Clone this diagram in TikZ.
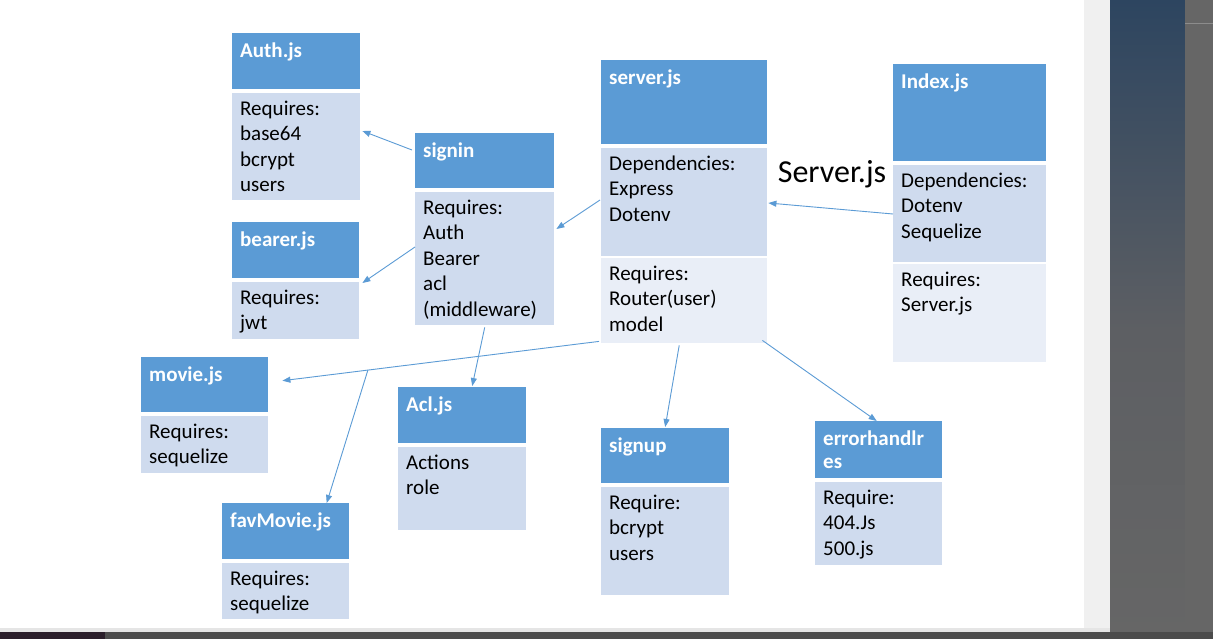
\documentclass[tikz,border=0pt]{standalone}
\usepackage{fontspec}
\setmainfont{Carlito}
\usetikzlibrary{arrows.meta}
\definecolor{headblue}{HTML}{5B9BD5}
\definecolor{bodyblue}{HTML}{CFDBEE}
\definecolor{restblue}{HTML}{E9EEF7}
\definecolor{linkblue}{HTML}{5B9BD5}
\definecolor{panelTop}{HTML}{2D4560}
\definecolor{panelMid}{HTML}{5D5F63}
\definecolor{panelBot}{HTML}{666666}
\definecolor{barDark}{HTML}{2A1E2A}
\tikzset{
	head/.style 2 args = {anchor=north west, fill=headblue, inner sep=0pt,
		minimum width=#1pt, minimum height=#2pt},
	body/.style 2 args = {anchor=north west, fill=bodyblue, inner sep=0pt,
		minimum width=#1pt, minimum height=#2pt},
	rest/.style 2 args = {body={#1}{#2}, fill=restblue},
	htxt/.style = {anchor=north west, text=white,
		font=\boxfont\bfseries, inner xsep=8pt, inner ysep=0pt, text height=24pt},
	btxt/.style = {anchor=north west, text=black,
		font=\boxfont, inner xsep=8pt, inner ysep=0pt, text height=22pt},
	link/.style = {draw=linkblue, line width=0.9pt}
}
\newcommand{\boxfont}{\fontsize{21}{25.5}\selectfont}
\newcommand{\lines}[1]{\begin{tabular}[t]{@{}l@{}}#1\end{tabular}}

\begin{document}
\begin{tikzpicture}[x=1pt, y=-1pt, >={Triangle[length=8pt, width=6pt]}]
\useasboundingbox (0,0) rectangle (1213,639);
% page and window around it
\fill[white] (0,0) rectangle (1084,628);
\fill[black!6] (1084,0) rectangle (1110,628);
\fill[black!10] (0,628) rectangle (1110,632);
\shade[top color=panelTop, bottom color=panelMid] (1110,0) rectangle (1185,330);
\shade[top color=panelMid, bottom color=panelBot] (1110,330) rectangle (1185,639);
\fill[panelBot] (1185,0) rectangle (1213,639);
\draw[black!45] (1185,23) -- (1213,23);
\fill[black!70] (0,632) rectangle (1213,639);
\fill[barDark] (0,632) rectangle (105,639);

% Drawing the file boxes
\draw
node at (232,33)  [head={128}{56}, label={[htxt]north west:{Auth.js}}] (auth) {}
node at (232,93)  [body={128}{107}, label={[btxt]north west:{\lines{Requires:\\base64\\bcrypt\\users}}}] (authB) {}
node at (232,222) [head={127}{56}, label={[htxt]north west:{bearer.js}}] (bearer) {}
node at (232,282) [body={127}{57}, label={[btxt]north west:{\lines{Requires:\\jwt}}}] (bearerB) {}
node at (415,133) [head={139}{55}, label={[htxt]north west:{signin}}] (signin) {}
node at (415,192) [body={139}{133}, label={[btxt]north west:{\lines{Requires:\\Auth\\Bearer\\acl\\(middleware)}}}] (signinB) {}
node at (601,60)  [head={166}{84}, label={[htxt]north west:{server.js}}] (server) {}
node at (601,148) [body={166}{108}, label={[btxt]north west:{\lines{Dependencies:\\Express\\Dotenv}}}] (serverB) {}
node at (601,258) [rest={166}{85}, label={[btxt]north west:{\lines{Requires:\\Router(user)\\model}}}] (serverR) {}
node at (893,64)  [head={153}{97}, label={[htxt]north west:{Index.js}}] (index) {}
node at (893,165) [body={153}{97}, label={[btxt]north west:{\lines{Dependencies:\\Dotenv\\Sequelize}}}] (indexB) {}
node at (893,264) [rest={153}{98}, label={[btxt]north west:{\lines{Requires:\\Server.js}}}] (indexR) {}
node at (141,357) [head={127}{55}, label={[htxt]north west:{movie.js}}] (movie) {}
node at (141,416) [body={127}{57}, label={[btxt]north west:{\lines{Requires:\\sequelize}}}] (movieB) {}
node at (398,387) [head={128}{56}, label={[htxt]north west:{Acl.js}}] (acl) {}
node at (398,447) [body={128}{83}, label={[btxt]north west:{\lines{Actions\\role}}}] (aclB) {}
node at (222,503) [head={127}{56}, label={[htxt]north west:{favMovie.js}}] (favmovie) {}
node at (222,563) [body={127}{56}, label={[btxt]north west:{\lines{Requires:\\sequelize}}}] (favmovieB) {}
node at (601,428) [head={128}{55}, label={[htxt]north west:{signup}}] (signup) {}
node at (601,487) [body={128}{108}, label={[btxt]north west:{\lines{Require:\\bcrypt\\users}}}] (signupB) {}
node at (815,421) [head={127}{57}, label={[htxt]north west:{\lines{errorhandlr\\[-2pt]es}}}] (errh) {}
node at (815,482) [body={127}{83}, label={[btxt]north west:{\lines{Require:\\404.Js\\500.js}}}] (errhB) {};

\node at (832,183) [anchor=base, font=\fontsize{32}{38}\selectfont] (srvname) {Server.js};

% links between the files
\draw[link, ->] ([xshift=-3pt, yshift=-17pt]signin.north west) -- ([xshift=2pt, yshift=-38pt]authB.north east);
\draw[link, ->] ([yshift=-55pt]signinB.north west) -- ([xshift=3pt, yshift=-1pt]bearerB.north east);
\draw[link, ->] ([xshift=-1pt, yshift=-52pt]serverB.north west) -- ([xshift=2pt, yshift=-37pt]signinB.north east);
\draw[link, ->] ([yshift=-49pt]indexB.north west) -- ([xshift=1pt, yshift=-55pt]serverB.north east);
\draw[link, ->] ([xshift=-2pt, yshift=2pt]serverR.south west) -- coordinate[pos=0.73] (fork) ([xshift=14pt, yshift=4pt]movie.east);
\draw[link, ->] (fork) -- ([xshift=41pt]favmovie.north);
\draw[link, ->] ([yshift=-2pt]signinB.south) -- ([xshift=10pt, yshift=1pt]acl.north);
\draw[link, ->] ([xshift=-5pt, yshift=-2pt]serverR.south) -- ([yshift=1pt]signup.north);
\draw[link, ->] ([xshift=-5pt, yshift=3pt]serverR.south east) -- ([xshift=-2pt]errh.north);
\end{tikzpicture}
\end{document}
